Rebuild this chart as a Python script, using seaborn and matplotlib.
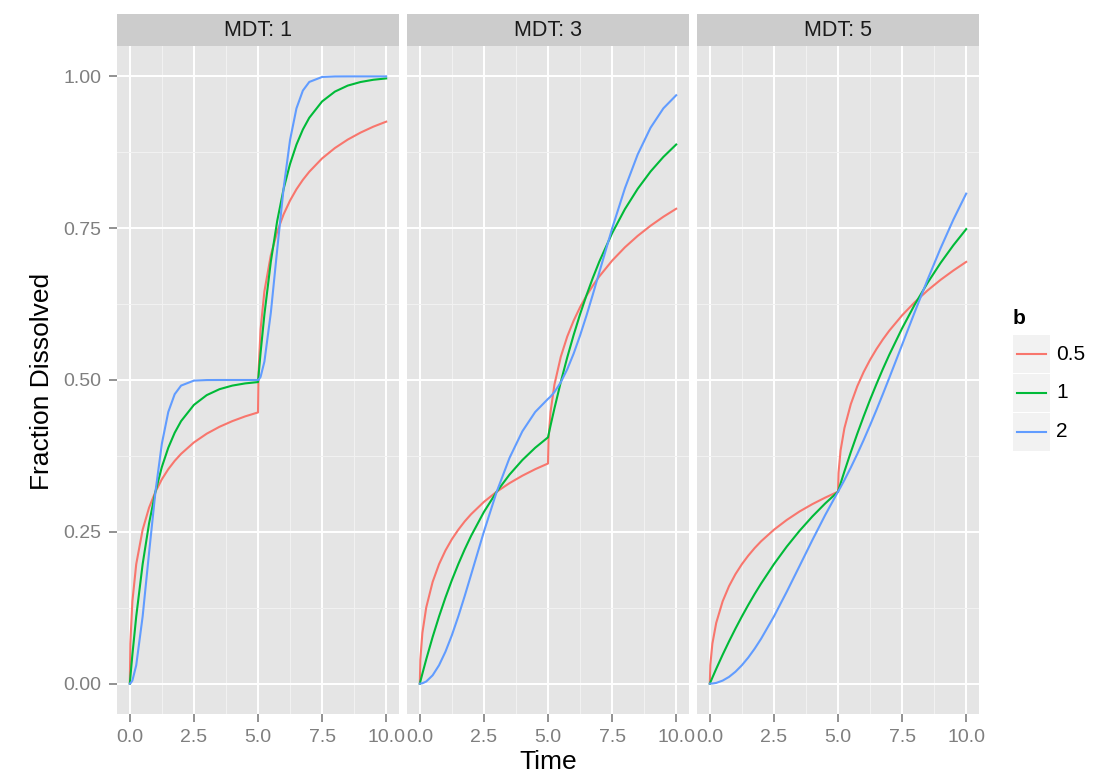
import pandas as pd
import seaborn as sns
import matplotlib.pyplot as plt
from matplotlib.patches import Rectangle
from matplotlib.lines import Line2D
from matplotlib.ticker import MultipleLocator

# time grid (dense near the two release times 0 and 5)
time = [0, 0.02, 0.1, 0.25, 0.5, 0.75, 1, 1.25, 1.5, 1.75, 2, 2.5, 3, 3.5, 4, 4.5, 5,
        5.02, 5.1, 5.25, 5.5, 5.75, 6, 6.25, 6.5, 6.75, 7, 7.5, 8, 8.5, 9, 9.5, 10]

mdt_levels = [1, 3, 5]
b_levels = ['0.5', '1', '2']

# fraction dissolved, one list per (MDT, b)
mdt1_b05 = [0, 0.0659, 0.1355, 0.1967, 0.2534, 0.2897, 0.3161, 0.3365, 0.3531, 0.3668, 0.3784,
            0.3972, 0.4116, 0.4230, 0.4323, 0.4401, 0.4466, 0.5127, 0.5832, 0.6461, 0.7055,
            0.7443, 0.7729, 0.7955, 0.8141, 0.8296, 0.8429, 0.8649, 0.8820, 0.8959, 0.9074,
            0.9172, 0.9254]
mdt1_b1 = [0, 0.0099, 0.0476, 0.1106, 0.1967, 0.2638, 0.3161, 0.3568, 0.3884, 0.4131, 0.4323,
           0.4590, 0.4751, 0.4849, 0.4908, 0.4944, 0.4966, 0.5066, 0.5446, 0.6080, 0.6947,
           0.7622, 0.8149, 0.8558, 0.8876, 0.9125, 0.9318, 0.9587, 0.9749, 0.9848, 0.9907,
           0.9944, 0.9966]
mdt1_b2 = [0, 0.0002, 0.0050, 0.0303, 0.1106, 0.2151, 0.3161, 0.3952, 0.4473, 0.4766, 0.4908,
           0.4990, 0.4999, 0.5, 0.5, 0.5, 0.5, 0.5002, 0.5050, 0.5303, 0.6106, 0.7151, 0.8161,
           0.8952, 0.9473, 0.9766, 0.9908, 0.9990, 0.9999, 1.0, 1.0, 1.0, 1.0]

mdt3_b05 = [0, 0.0392, 0.0835, 0.1254, 0.1675, 0.1967, 0.2193, 0.2378, 0.2534, 0.2671, 0.2790,
            0.2993, 0.3161, 0.3302, 0.3424, 0.3531, 0.3625, 0.4020, 0.4477, 0.4922, 0.5384,
            0.5715, 0.5977, 0.6198, 0.6387, 0.6555, 0.6705, 0.6965, 0.7185, 0.7374, 0.7540,
            0.7688, 0.7820]
mdt3_b1 = [0, 0.0033, 0.0164, 0.0400, 0.0768, 0.1106, 0.1418, 0.1704, 0.1967, 0.2210, 0.2433,
           0.2827, 0.3161, 0.3443, 0.3682, 0.3884, 0.4056, 0.4095, 0.4251, 0.4531, 0.4969,
           0.5371, 0.5741, 0.6082, 0.6394, 0.6683, 0.6948, 0.7417, 0.7814, 0.8149, 0.8433,
           0.8673, 0.8878]
mdt3_b2 = [0, 0.0000, 0.0006, 0.0035, 0.0137, 0.0303, 0.0526, 0.0797, 0.1106, 0.1442, 0.1794,
           0.2503, 0.3161, 0.3718, 0.4155, 0.4473, 0.4689, 0.4696, 0.4728, 0.4801, 0.4964,
           0.5176, 0.5434, 0.5732, 0.6060, 0.6410, 0.6772, 0.7493, 0.8157, 0.8716, 0.9154,
           0.9473, 0.9689]

mdt5_b05 = [0, 0.0306, 0.0659, 0.1001, 0.1355, 0.1606, 0.1803, 0.1967, 0.2108, 0.2233, 0.2344,
            0.2534, 0.2695, 0.2835, 0.2956, 0.3063, 0.3161, 0.3470, 0.3838, 0.4207, 0.4603,
            0.4895, 0.5131, 0.5332, 0.5509, 0.5668, 0.5812, 0.6065, 0.6284, 0.6477, 0.6649,
            0.6803, 0.6945]
mdt5_b1 = [0, 0.0020, 0.0099, 0.0244, 0.0476, 0.0696, 0.0906, 0.1106, 0.1296, 0.1477, 0.1648,
           0.1967, 0.2256, 0.2517, 0.2753, 0.2967, 0.3161, 0.3188, 0.3296, 0.3494, 0.3812,
           0.4113, 0.4400, 0.4674, 0.4933, 0.5181, 0.5415, 0.5851, 0.6247, 0.6604, 0.6927,
           0.7219, 0.7484]
mdt5_b2 = [0, 0.0000, 0.0002, 0.0012, 0.0050, 0.0111, 0.0196, 0.0303, 0.0430, 0.0576, 0.0739,
           0.1106, 0.1512, 0.1937, 0.2364, 0.2776, 0.3161, 0.3175, 0.3235, 0.3352, 0.3559,
           0.3779, 0.4011, 0.4255, 0.4507, 0.4768, 0.5035, 0.5579, 0.6126, 0.6659, 0.7168,
           0.7641, 0.8069]

series = {
    (1, '0.5'): mdt1_b05, (1, '1'): mdt1_b1, (1, '2'): mdt1_b2,
    (3, '0.5'): mdt3_b05, (3, '1'): mdt3_b1, (3, '2'): mdt3_b2,
    (5, '0.5'): mdt5_b05, (5, '1'): mdt5_b1, (5, '2'): mdt5_b2,
}

rows = []
for (mdt, b), vals in series.items():
    for t, v in zip(time, vals):
        rows.append({'MDT': mdt, 'b': b, 'Time': t, 'Fraction': v})
df = pd.DataFrame(rows)

plt.rcParams['font.family'] = ['Liberation Sans', 'DejaVu Sans']

palette = {'0.5': '#F8766D', '1': '#00BA38', '2': '#619CFF'}
grey50 = '#7F7F7F'

W, H = 1114, 775
fig = plt.figure(figsize=(W / 100, H / 100), dpi=100)

def fx(px):
    return px / W

def fy(py):
    return 1 - py / H

panel_left = [117, 407, 697]
panel_w = 282
top, bottom = 46, 714
strip_h = 32

for i, mdt in enumerate(mdt_levels):
    ax = fig.add_axes([fx(panel_left[i]), fy(bottom), panel_w / W, (bottom - top) / H])
    ax.set_facecolor('#E5E5E5')
    ax.xaxis.set_major_locator(MultipleLocator(2.5))
    ax.xaxis.set_minor_locator(MultipleLocator(1.25))
    ax.yaxis.set_major_locator(MultipleLocator(0.25))
    ax.yaxis.set_minor_locator(MultipleLocator(0.125))
    ax.grid(which='major', color='white', lw=1.4)
    ax.grid(which='minor', color='#F2F2F2', lw=0.7)
    ax.set_axisbelow(True)
    sub = df[df['MDT'] == mdt]
    sns.lineplot(data=sub, x='Time', y='Fraction', hue='b', hue_order=b_levels,
                 palette=palette, lw=1.5, legend=False, ax=ax, sort=False)
    ax.set_xlim(-0.5, 10.5)
    ax.set_ylim(-0.05, 1.05)
    for s in ax.spines.values():
        s.set_visible(False)
    ax.set_xlabel('')
    ax.set_ylabel('')
    ax.set_xticks([0, 2.5, 5, 7.5, 10])
    ax.set_xticklabels(['0.0', '2.5', '5.0', '7.5', '10.0'])
    ax.tick_params(which='minor', length=0)
    ax.tick_params(which='major', length=6, width=1.2, color=grey50, labelcolor=grey50,
                   labelsize=14, pad=5)
    if i == 0:
        ax.set_yticks([0, 0.25, 0.5, 0.75, 1.0])
        ax.set_yticklabels(['0.00', '0.25', '0.50', '0.75', '1.00'])
    else:
        ax.tick_params(axis='y', length=0, labelleft=False)
    # facet strip
    sh = strip_h / (bottom - top)
    ax.add_patch(Rectangle((0, 1), 1, sh, transform=ax.transAxes, facecolor='#CCCCCC',
                           edgecolor='none', clip_on=False))
    ax.text(0.5, 1 + sh / 2, f'MDT: {mdt}', transform=ax.transAxes, ha='center',
            va='center', fontsize=15.5, color='#1A1A1A')

fig.text(fx(42), fy(381), 'Fraction Dissolved', rotation=90, ha='center', va='center',
         fontsize=19, color='black')
fig.text(fx(548), fy(774), 'Time', ha='center', va='bottom', fontsize=19, color='black')

# legend
fig.text(fx(1013), fy(318), 'b', ha='left', va='center', fontsize=15,
         fontweight='bold', color='black')
for j, b in enumerate(b_levels):
    yc = 354 + 39 * j
    fig.patches.append(Rectangle((fx(1013), fy(yc + 19)), 37 / W, 38 / H,
                                 transform=fig.transFigure, facecolor='#F2F2F2',
                                 edgecolor='none'))
    fig.add_artist(Line2D([fx(1017), fx(1046)], [fy(yc), fy(yc)], color=palette[b], lw=1.5,
                          transform=fig.transFigure))
    fig.text(fx(1056), fy(yc), b, ha='left', va='center', fontsize=15, color='black')

fig.savefig('out.png', dpi=100)
